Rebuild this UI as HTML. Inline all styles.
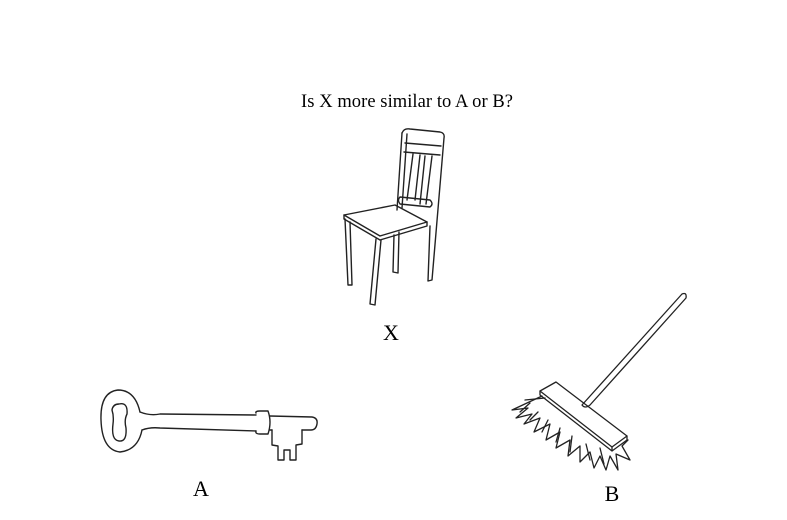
<!DOCTYPE html>
<html><head><meta charset="utf-8"><style>
html,body{margin:0;padding:0;background:#fff;}
svg{display:block}
text{font-family:"Liberation Serif",serif;fill:#000}
</style></head><body>
<svg width="787" height="520" viewBox="0 0 787 520">
<text x="407" y="107" font-size="18.5" text-anchor="middle" textLength="212">Is X more similar to A or B?</text>

<g fill="none" stroke="#222" stroke-width="1.4" stroke-linejoin="round" stroke-linecap="round">
<path d="M402,133 Q404,128 410,129 L440,132 Q445,133 444,138 L432,280 L428,281 L430,226"/>
<path d="M402,133 L397,210 M407,134 L402,208"/>
<path d="M405,143 L441,146 M404,152 L440,155"/>
<path d="M413,154 L407,200 M420,155 L415,200 M425,156 L420,204 M432,156 L426,204"/>
<path d="M400,197 L430,200 Q434,204 430,207 L400,204 Q397,200 400,197Z"/>
<path d="M344,215 L395,205 L427,222 L380,236 Z"/>
<path d="M344,215 L344,219 L380,240 L427,226 L427,222"/>
<path d="M345,219 L348,285 L352,285 L350,222"/>
<path d="M376,239 L370,304 L375,305 L381,240"/>
<path d="M394,235 L393,272 L398,273 L399,232"/>
</g>
<text x="391" y="340" font-size="22" text-anchor="middle">X</text>

<g fill="none" stroke="#222" stroke-width="1.4" stroke-linejoin="round" stroke-linecap="round">
<path d="M140,412 Q135,390 118,390 Q100,392 101,420 Q102,450 120,452 Q138,450 142,430"/>
<path d="M119,404 Q128,402 127,414 Q124,420 126,428 Q127,442 119,441 Q111,440 113,424 Q114,416 112,410 Q113,404 119,404Z"/>
<path d="M140,412 Q150,416 160,414 L256,415 M142,430 Q150,427 160,428 L256,431"/>
<path d="M256,413 Q255,411 260,411 L268,411 Q272,422 268,434 L260,434 Q255,434 256,431"/>
<path d="M270,416 L312,417 Q318,418 317,424 Q316,430 311,430 L302,430 M270,430 L272,430"/>
<path d="M272,430 L272,445 L278,446 L278,460 L284,460 L284,450 L290,450 L290,460 L296,460 L296,445 L302,444 L302,430"/>
</g>
<text x="201" y="496" font-size="22" text-anchor="middle">A</text>

<g fill="none" stroke="#222" stroke-width="1.3" stroke-linejoin="round" stroke-linecap="round">
<path d="M682,294 Q687,292 686,298 L590,405 Q585,409 582,405 Z" fill="#fff"/>
<path d="M540,391 L556,382 L627,436 L612,447 Z"/>
<path d="M540,391 L540,395 L612,451 L612,447 M612,451 L627,440 L627,436"/>
<path d="M542,396 L512,410 L528,408 L516,418 L532,414 L524,424 L540,418 L534,432 L550,424 L546,440 L560,432 L556,448 L570,440 L568,456 L580,446 L580,462 L590,452 L594,468 L600,456 L606,470 L610,456 L618,470 L616,454 L630,460 L622,446 L628,440"/>
<path d="M530,403 L520,412 M538,412 L530,420 M548,420 L542,432 M560,428 L556,442 M572,436 L570,452 M586,444 L590,460 M600,448 L604,464 M545,398 L525,400"/>
</g>
<text x="612" y="501" font-size="22" text-anchor="middle">B</text>
</svg>
</body></html>
